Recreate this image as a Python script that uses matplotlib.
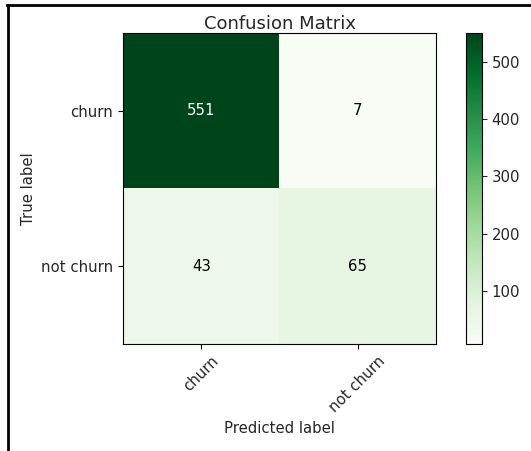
import numpy as np
import matplotlib
matplotlib.use("Agg")
import matplotlib.pyplot as plt
from matplotlib.lines import Line2D

classes = ["churn", "not churn"]
cm = np.array([[551, 7],
               [43, 65]])
cbar_ticks = [100, 200, 300, 400, 500]

W, H = 531, 451
fig = plt.figure(figsize=(W / 100, H / 100), dpi=100)

def frac(x0, y0, x1, y1):
    return [x0 / W, 1 - y1 / H, (x1 - x0) / W, (y1 - y0) / H]

ax = fig.add_axes(frac(123, 33, 436, 344))
cax = fig.add_axes(frac(466, 33, 482, 344))

fs = 10.7
txt = "#262626"

im = ax.imshow(cm, interpolation="nearest", cmap=plt.cm.Greens, aspect="auto")
ax.set_title("Confusion Matrix", fontsize=13, color=txt, pad=3)
cb = fig.colorbar(im, cax=cax)
cb.set_ticks(cbar_ticks)
cb.ax.tick_params(labelsize=fs, colors=txt)

tick_marks = np.arange(len(classes))
ax.set_xticks(tick_marks)
ax.set_xticklabels(classes, rotation=45, fontsize=fs, color=txt)
ax.set_yticks(tick_marks)
ax.set_yticklabels(classes, fontsize=fs, color=txt)

thresh = cm.max() / 2.0
for i in range(cm.shape[0]):
    for j in range(cm.shape[1]):
        ax.text(j, i, format(cm[i, j], "d"), ha="center", va="center",
                fontsize=fs,
                color="white" if cm[i, j] > thresh else "black")

ax.set_ylabel("True label", fontsize=fs, color=txt)
ax.set_xlabel("Predicted label", fontsize=fs, color=txt)

# frame lines along the top and left edges
fig.add_artist(Line2D([7 / W, 1], [1 - 4.5 / H, 1 - 4.5 / H],
                      transform=fig.transFigure, color="black", lw=2))
fig.add_artist(Line2D([8 / W, 8 / W], [0, 1 - 4.5 / H],
                      transform=fig.transFigure, color="black", lw=2))

fig.savefig("out.png", dpi=100)
